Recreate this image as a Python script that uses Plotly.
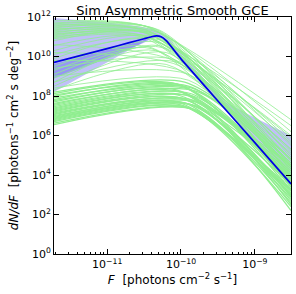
import math
import plotly.graph_objects as go

# ---------------- data (log10 values) ----------------
x_range_log = [-11.72, -8.51]

# median (blue) curve: log10 F, log10 dN/dF
median_logx = [-11.72, -11.0, -10.7, -10.5, -10.4, -10.33, -10.27, -10.2, -10.0, -9.5, -9.0, -8.51]
median_logy = [9.70, 10.40, 10.70, 10.90, 11.00, 11.04, 11.00, 10.80, 9.88, 7.75, 5.64, 3.55]

# outer lavender band
band_logx = [-11.72, -11.0, -10.6, -10.45, -10.35, -10.25, -10.15, -10.0, -9.7, -9.4, -9.0, -8.51]
band_upper = [11.95, 11.72, 11.55, 11.45, 11.35, 11.15, 10.85, 10.15, 8.90, 7.70, 6.90, 6.00]
band_lower = [8.20, 9.70, 10.55, 10.85, 10.92, 10.90, 10.50, 9.84, 8.58, 7.32, 5.64, 3.55]

# inner (overlapping) band
inner_logx = [-11.72, -11.0, -10.5, -10.4]
inner_upper = [9.62, 10.32, 10.84, 10.95]
inner_lower = [8.90, 9.90, 10.70, 10.90]

# green sample curves: (left log y, break log x, break log y, right log y)
green_left = [
    11.80, 11.70, 11.65, 11.60, 11.55, 11.50, 11.45, 11.40, 11.35, 11.30, 11.25, 11.20, 11.15, 11.10, 11.05, 11.00, 10.95, 10.90,
    10.80, 10.55, 10.30, 10.10, 9.90, 9.70, 9.50, 9.30, 9.10, 8.90, 8.70, 8.50,
    10.60, 10.20, 9.80, 9.40, 9.00, 8.70, 8.40, 8.30,
    8.20, 8.12, 8.05, 7.98, 7.90, 7.82, 7.76, 7.70, 7.63, 7.57, 7.52, 7.46, 7.40, 7.35, 7.30, 7.25, 7.20, 7.15, 7.10, 7.05,
    7.00, 6.96, 6.92, 6.88, 6.84, 6.80, 6.75, 6.70, 6.62, 6.55,
]
green_break_x = [
    -10.50, -10.45, -10.40, -10.55, -10.35, -10.45, -10.30, -10.50, -10.40, -10.35, -10.45, -10.30, -10.50, -10.40, -10.35, -10.45, -10.30, -10.50,
    -10.40, -10.45, -10.35, -10.30, -10.40, -10.45, -10.30, -10.40, -10.25, -10.35, -10.30, -10.20,
    -10.10, -10.00, -9.95, -10.10, -9.90, -10.05, -9.90, -10.20,
    -9.95, -10.05, -9.90, -10.00, -9.85, -9.95, -10.05, -9.90, -9.80, -10.00, -9.95, -9.85, -10.05, -9.90, -9.80, -10.00, -9.95, -9.85, -9.90, -10.05,
    -9.80, -9.95, -9.90, -9.85, -10.00, -9.80, -9.95, -9.90, -9.85, -9.80,
]
green_break_y = [
    11.55, 11.50, 11.45, 11.35, 11.40, 11.30, 11.35, 11.20, 11.25, 11.30, 11.15, 11.20, 11.05, 11.10, 11.15, 11.00, 11.05, 10.95,
    11.20, 10.95, 11.00, 10.85, 10.90, 10.50, 10.70, 10.40, 10.45, 10.30, 10.55, 10.20,
    9.80, 9.50, 9.20, 9.85, 9.10, 9.70, 8.80, 9.60,
    8.70, 8.60, 8.50, 8.55, 8.40, 8.45, 8.30, 8.35, 8.25, 8.20, 8.15, 8.10, 8.05, 8.00, 7.95, 7.90, 7.85, 7.80, 7.75, 7.70,
    7.70, 7.65, 7.60, 7.55, 7.55, 7.50, 7.45, 7.40, 7.35, 7.30,
]
green_right = [
    6.8, 6.2, 5.5, 5.9, 4.9, 5.2, 4.4, 6.5, 4.7, 3.9, 5.6, 4.2, 6.0, 3.6, 4.5, 5.3, 3.3, 4.8,
    4.1, 3.8, 5.0, 5.7, 4.8, 5.1, 4.0, 3.7, 3.2, 4.6, 4.4, 3.9,
    4.5, 4.0, 3.6, 5.3, 4.3, 3.4, 4.1, 4.4,
    4.8, 3.9, 4.4, 3.5, 4.6, 3.2, 4.1, 3.7, 4.3, 3.0, 3.9, 3.4, 4.5, 2.9, 3.6, 4.0, 3.1, 3.8, 2.7, 3.3,
    4.2, 2.6, 3.5, 2.9, 3.2, 2.5, 3.0, 2.4, 2.8, 2.2,
]

y_tick_exps = [0, 2, 4, 6, 8, 10, 12]
x_tick_exps = [-11, -10, -9]

# ---------------- figure ----------------
def p(e):
    return 10 ** e

fig = go.Figure()

BAND = "rgba(70,70,235,0.34)"

# outer band
fig.add_trace(go.Scatter(x=[p(v) for v in band_logx], y=[p(v) for v in band_lower],
                         mode="lines", line=dict(width=0), hoverinfo="skip", showlegend=False))
fig.add_trace(go.Scatter(x=[p(v) for v in band_logx], y=[p(v) for v in band_upper],
                         mode="lines", line=dict(width=0), fill="tonexty", fillcolor=BAND,
                         hoverinfo="skip", showlegend=False))
# inner band
fig.add_trace(go.Scatter(x=[p(v) for v in inner_logx], y=[p(v) for v in inner_lower],
                         mode="lines", line=dict(width=0), hoverinfo="skip", showlegend=False))
fig.add_trace(go.Scatter(x=[p(v) for v in inner_logx], y=[p(v) for v in inner_upper],
                         mode="lines", line=dict(width=0), fill="tonexty", fillcolor=BAND,
                         hoverinfo="skip", showlegend=False))

xl, xr = x_range_log
for yl, xb, yb, yr in zip(green_left, green_break_x, green_break_y, green_right):
    lw = 1.25 if yl < 8.25 else 0.8
    fig.add_trace(go.Scatter(
        x=[p(xl), p(xb), p(xr)], y=[p(yl), p(yb), p(yr)],
        mode="lines", line=dict(color="#90EE90", width=lw, shape="spline", smoothing=0.7),
        hoverinfo="skip", showlegend=False))

fig.add_trace(go.Scatter(x=[p(v) for v in median_logx], y=[p(v) for v in median_logy],
                         mode="lines", line=dict(color="#0000E6", width=1.7, shape="spline", smoothing=0.5),
                         showlegend=False))

FONT = "DejaVu Sans"
fig.update_layout(
    width=296, height=294,
    margin=dict(l=54, r=5, t=17, b=40),
    paper_bgcolor="white", plot_bgcolor="white",
    font=dict(family=FONT, size=11, color="black"),
    title=dict(text="Sim Asymmetric Smooth GCE", x=0.5, xref="paper", xanchor="center",
               y=1 - 10 / 294, yanchor="middle", font=dict(size=13, family=FONT)),
)
minor_x = [p(e) * k for e in range(-12, -8) for k in range(2, 10)
           if xl <= (e + math.log10(k)) <= xr]
fig.update_xaxes(
    type="log", range=x_range_log,
    tickvals=[p(e) for e in x_tick_exps],
    ticktext=["10<sup>\u2212%d</sup>" % (-e) for e in x_tick_exps],
    ticks="inside", ticklen=5, tickwidth=1, tickcolor="black",
    minor=dict(ticks="inside", ticklen=2.5, tickwidth=0.8, tickcolor="black", tickvals=minor_x),
    showline=True, linecolor="black", linewidth=1, mirror="allticks",
    showgrid=False, zeroline=False,
    tickfont=dict(size=11),
    title=dict(text="<i>F</i>  [photons cm<sup>\u22122</sup> s<sup>\u22121</sup>]",
               font=dict(size=12), standoff=3),
)
fig.update_yaxes(
    type="log", range=[0, 12],
    tickvals=[p(e) for e in y_tick_exps],
    ticktext=["10<sup>%d</sup>" % e for e in y_tick_exps],
    ticks="inside", ticklen=5, tickwidth=1, tickcolor="black",
    showline=True, linecolor="black", linewidth=1, mirror="allticks",
    showgrid=False, zeroline=False,
    tickfont=dict(size=11),
    title=dict(text="<i>dN/dF</i>  [photons<sup>\u22121</sup> cm<sup>2</sup> s deg<sup>\u22122</sup>]",
               font=dict(size=12), standoff=5),
)

fig.write_html("out.html", config={"displayModeBar": False},
               post_script="document.body.style.margin='0';document.body.style.overflow='hidden';")
